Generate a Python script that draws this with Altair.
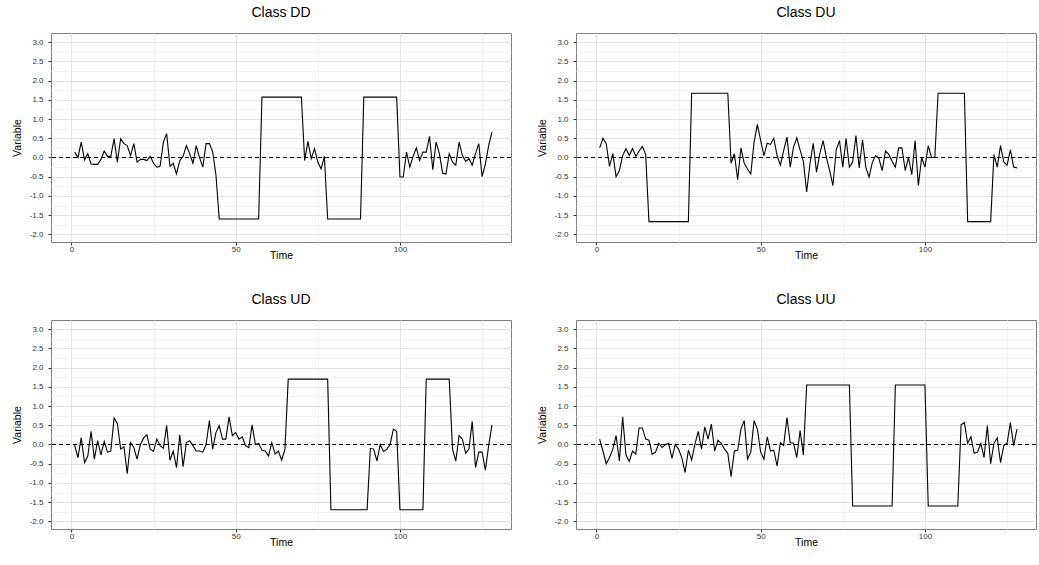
import altair as alt
import pandas as pd

# Time index shared by all four series
time = list(range(1, 129))

class_dd = [
    0.14, 0.00, 0.40, -0.06, 0.10, -0.17, -0.18, -0.18, -0.05, 0.17,
    0.03, 0.03, 0.49, -0.12, 0.49, 0.36, 0.31, 0.05, 0.36, -0.12,
    -0.05, -0.05, -0.08, 0.03, -0.15, -0.25, -0.23, 0.40, 0.62, -0.23,
    -0.15, -0.43, -0.08, 0.03, 0.31, 0.10, -0.15, 0.31, 0.00, -0.25,
    0.36, 0.36, 0.15, -0.45,
    -1.60, -1.60, -1.60, -1.60, -1.60, -1.60, -1.60, -1.60, -1.60, -1.60, -1.60, -1.60, -1.60,
    1.57, 1.57, 1.57, 1.57, 1.57, 1.57, 1.57, 1.57, 1.57, 1.57, 1.57, 1.57, 1.57,
    -0.08, 0.42, -0.03, 0.23, -0.12, -0.30, 0.03,
    -1.60, -1.60, -1.60, -1.60, -1.60, -1.60, -1.60, -1.60, -1.60, -1.60, -1.60,
    1.57, 1.57, 1.57, 1.57, 1.57, 1.57, 1.57, 1.57, 1.57, 1.57, 1.57,
    -0.51, -0.51, 0.14, -0.25, 0.03, 0.25, -0.08, 0.14, 0.14, 0.55,
    -0.32, 0.40, 0.10, -0.41, -0.43, 0.10, -0.12, -0.20, 0.40, 0.05,
    -0.10, -0.03, -0.20, 0.10, 0.36, -0.50, -0.17, 0.31, 0.66,
]

class_du = [
    0.25, 0.50, 0.36, -0.23, 0.10, -0.50, -0.34, 0.05, 0.23, 0.05,
    0.23, 0.03, 0.17, 0.29, 0.08,
    -1.67, -1.67, -1.67, -1.67, -1.67, -1.67, -1.67, -1.67, -1.67, -1.67, -1.67, -1.67, -1.67,
    1.67, 1.67, 1.67, 1.67, 1.67, 1.67, 1.67, 1.67, 1.67, 1.67, 1.67, 1.67,
    -0.15, 0.10, -0.58, 0.25, -0.15, -0.30, -0.43, 0.40, 0.86, 0.44,
    0.05, 0.37, 0.34, 0.50, 0.05, -0.20, 0.18, 0.53, -0.25, 0.27,
    0.51, 0.20, -0.10, -0.90, -0.17, 0.37, -0.38, 0.10, 0.44, 0.00,
    -0.34, -0.73, 0.20, 0.44, -0.25, 0.49, -0.25, -0.12, 0.57, -0.27,
    0.46, -0.25, -0.51, -0.12, 0.05, -0.03, -0.34, 0.17, 0.08, -0.10,
    -0.25, 0.25, 0.25, -0.34, 0.00, -0.45, 0.44, -0.73, 0.00, -0.25,
    0.30, 0.00, 0.00,
    1.67, 1.67, 1.67, 1.67, 1.67, 1.67, 1.67, 1.67, 1.67,
    -1.67, -1.67, -1.67, -1.67, -1.67, -1.67, -1.67, -1.67,
    0.08, -0.25, 0.31, -0.12, -0.20, 0.20, -0.25, -0.27,
]

class_ud = [
    -0.02, -0.34, 0.18, -0.47, -0.30, 0.34, -0.38, 0.10, -0.27, 0.08,
    -0.20, -0.17, 0.69, 0.55, -0.12, -0.06, -0.76, 0.05, -0.08, -0.38,
    0.00, 0.17, 0.25, -0.12, -0.18, 0.14, -0.03, -0.10, 0.49, -0.41,
    -0.17, -0.60, 0.25, -0.58, 0.05, 0.10, -0.03, -0.17, -0.17, -0.20,
    0.00, 0.62, -0.12, 0.31, 0.49, 0.14, 0.14, 0.72, 0.23, 0.31,
    0.14, 0.20, -0.03, -0.08, 0.51, 0.00, 0.03, -0.15, -0.17, -0.30,
    0.05, -0.25, -0.17, -0.41, -0.12,
    1.70, 1.70, 1.70, 1.70, 1.70, 1.70, 1.70, 1.70, 1.70, 1.70, 1.70, 1.70, 1.70,
    -1.70, -1.70, -1.70, -1.70, -1.70, -1.70, -1.70, -1.70, -1.70, -1.70, -1.70, -1.70,
    -0.10, -0.12, -0.43, 0.00, -0.18, -0.12, 0.00, 0.40, 0.34,
    -1.70, -1.70, -1.70, -1.70, -1.70, -1.70, -1.70, -1.70,
    1.70, 1.70, 1.70, 1.70, 1.70, 1.70, 1.70, 1.70,
    -0.12, -0.43, 0.23, 0.14, -0.23, -0.12, 0.60, -0.60, -0.20, -0.20,
    -0.67, -0.03, 0.51,
]

class_uu = [
    0.14, -0.17, -0.50, -0.34, -0.12, 0.23, -0.43, 0.72, -0.27, -0.44,
    -0.17, -0.25, 0.43, 0.43, 0.14, 0.11, -0.25, -0.20, 0.03, -0.08,
    0.00, 0.03, -0.36, 0.00, -0.12, -0.34, -0.73, -0.15, -0.41, 0.00,
    0.34, -0.12, 0.46, 0.14, 0.53, -0.17, 0.11, 0.03, -0.12, -0.23,
    -0.84, -0.17, -0.15, 0.40, 0.62, -0.38, -0.20, 0.62, 0.40, -0.20,
    -0.38, 0.20, -0.17, -0.15, -0.56, 0.05, -0.03, 0.70, 0.05, 0.03,
    -0.34, 0.36, -0.27,
    1.55, 1.55, 1.55, 1.55, 1.55, 1.55, 1.55, 1.55, 1.55, 1.55, 1.55, 1.55, 1.55, 1.55,
    -1.60, -1.60, -1.60, -1.60, -1.60, -1.60, -1.60, -1.60, -1.60, -1.60, -1.60, -1.60, -1.60,
    1.55, 1.55, 1.55, 1.55, 1.55, 1.55, 1.55, 1.55, 1.55, 1.55,
    -1.60, -1.60, -1.60, -1.60, -1.60, -1.60, -1.60, -1.60, -1.60, -1.60,
    0.51, 0.57, 0.03, 0.20, -0.23, -0.20, 0.03, -0.34, 0.49, -0.50,
    0.03, 0.17, -0.47, -0.03, 0.03, 0.57, -0.03, 0.40,
]

panel_titles = ["Class DD", "Class DU", "Class UD", "Class UU"]

# Axis break positions (major ones carry labels, minor ones only a light grid line)
y_major = [-2.0, -1.5, -1.0, -0.5, 0.0, 0.5, 1.0, 1.5, 2.0, 2.5, 3.0]
y_minor = [-1.75, -1.25, -0.75, -0.25, 0.25, 0.75, 1.25, 1.75, 2.25, 2.75]
x_major = [0, 50, 100]
x_minor = [25, 75, 125]
reference_level = [0.0]

FONT = "Liberation Sans"
MAJOR_GRID = "#e3e3e3"
MINOR_GRID = "#f3f3f3"

x_axis = alt.Axis(
    values=sorted(x_major + x_minor),
    labelExpr="datum.value % 50 == 0 ? format(datum.value, 'd') : ''",
    gridColor={"condition": {"test": "datum.value % 50 != 0", "value": MINOR_GRID}, "value": MAJOR_GRID},
    tickOpacity={"condition": {"test": "datum.value % 50 != 0", "value": 0}, "value": 1},
    labelPadding=0,
    titlePadding=-3,
    title="Time",
)
y_axis = alt.Axis(
    values=sorted(y_major + y_minor),
    labelExpr="datum.value % 0.5 == 0 ? replace(format(datum.value, '.1f'), '\u2212', '-') : ''",
    gridColor={"condition": {"test": "datum.value % 0.5 != 0", "value": MINOR_GRID}, "value": MAJOR_GRID},
    tickOpacity={"condition": {"test": "datum.value % 0.5 != 0", "value": 0}, "value": 1},
    labelPadding=5,
    titlePadding=7,
    title="Variable",
)

x_scale = alt.Scale(domain=[-6.2, 133.8], nice=False, zero=False)
y_scale = alt.Scale(domain=[-2.2, 3.24], nice=False, zero=False)


def panel(title, values):
    df = pd.DataFrame({"Time": time, "Variable": values})
    series = alt.Chart(df).mark_line(color="black", strokeWidth=1.1).encode(
        x=alt.X("Time:Q", scale=x_scale, axis=x_axis),
        y=alt.Y("Variable:Q", scale=y_scale, axis=y_axis),
    )
    zero_line = alt.Chart(pd.DataFrame({"Variable": reference_level})).mark_rule(
        color="black", strokeWidth=1.1, strokeDash=[4, 3]
    ).encode(y=alt.Y("Variable:Q", scale=y_scale, axis=y_axis))
    return alt.layer(series, zero_line).properties(
        width=460,
        height=209,
        title=alt.TitleParams(title, fontSize=14, font=FONT, fontWeight="normal",
                              color="black", anchor="middle", offset=13),
    )


panels = [panel(t, v) for t, v in zip(panel_titles, [class_dd, class_du, class_ud, class_uu])]

chart = alt.vconcat(
    alt.hconcat(panels[0], panels[1], spacing=23),
    alt.hconcat(panels[2], panels[3], spacing=23),
    spacing=31,
).properties(
    padding={"left": 11, "top": 5, "right": 0, "bottom": 0},
    background="white",
).configure_view(
    stroke="#7f7f7f", strokeWidth=1
).configure_axis(
    domain=False,
    tickColor="#333333",
    tickSize=3,
    tickWidth=1,
    labelFont=FONT,
    labelFontSize=8,
    labelColor="#333333",
    titleFont=FONT,
    titleFontSize=10.5,
    titleFontWeight="normal",
    titleColor="black",
    gridWidth=1,
)

chart.save("out.html", embed_options={"renderer": "svg", "actions": False})
